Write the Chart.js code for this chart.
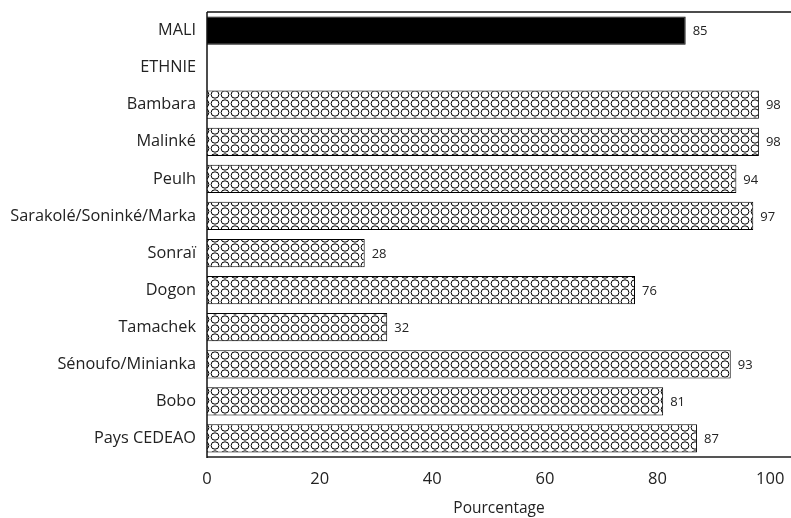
<!DOCTYPE html>
<html>
<head>
<meta charset="utf-8">
<script src="https://cdn.jsdelivr.net/npm/chart.js@4/dist/chart.umd.min.js"></script>
<style>
  html, body { margin: 0; padding: 0; background: #fff; }
  #wrap { width: 791px; height: 518px; }
</style>
</head>
<body>
<div id="wrap"><canvas id="c" width="791" height="518"></canvas></div>
<script>
const categories = ["MALI", "ETHNIE", "Bambara", "Malinké", "Peulh", "Sarakolé/Soninké/Marka", "Sonraï", "Dogon", "Tamachek", "Sénoufo/Minianka", "Bobo", "Pays CEDEAO"];
const values = [85, null, 98, 98, 94, 97, 28, 76, 32, 93, 81, 87];
const xTicks = [0, 20, 40, 60, 80, 100];
const axisTitle = "Pourcentage";

// circle pattern
function makePattern() {
  const t = document.createElement('canvas');
  t.width = 10; t.height = 9;
  const g = t.getContext('2d');
  g.fillStyle = '#fff';
  g.fillRect(0, 0, 10, 9);
  g.strokeStyle = '#000';
  g.lineWidth = 1;
  g.beginPath();
  g.ellipse(5, 4.5, 3.9, 3.7, 0, 0, Math.PI * 2);
  g.stroke();
  return document.getElementById('c').getContext('2d').createPattern(t, 'repeat');
}
const pat = makePattern();
const bg = categories.map((c, i) => i === 0 ? '#000' : pat);

const FONT = "'Open Sans', 'DejaVu Sans', sans-serif";

function zeroPad(s) {
  s.paddingTop = 0; s.paddingBottom = 0; s.paddingLeft = 0; s.paddingRight = 0;
}

const valueLabels = {
  id: 'valueLabels',
  afterDatasetsDraw(chart) {
    const ctx = chart.ctx;
    const meta = chart.getDatasetMeta(0);
    ctx.save();
    ctx.font = "13px " + FONT;
    ctx.fillStyle = '#222';
    ctx.textAlign = 'left';
    ctx.textBaseline = 'middle';
    meta.data.forEach((el, i) => {
      const v = values[i];
      if (v === null || v === undefined) return;
      ctx.fillText(String(v), el.x + 7, el.y + 1);
    });
    ctx.restore();
  }
};

const frame = {
  id: 'frame',
  afterDraw(chart) {
    const { ctx, chartArea: a } = chart;
    ctx.save();
    ctx.strokeStyle = '#111';
    ctx.lineWidth = 1.5;
    ctx.beginPath();
    ctx.moveTo(a.left, a.top);
    ctx.lineTo(chart.width, a.top);
    ctx.stroke();
    ctx.strokeStyle = '#555';
    ctx.lineWidth = 2;
    ctx.beginPath();
    ctx.moveTo(a.left, a.bottom);
    ctx.lineTo(chart.width, a.bottom);
    ctx.stroke();
    ctx.strokeStyle = '#111';
    ctx.lineWidth = 1.5;
    ctx.beginPath();
    ctx.moveTo(a.left, a.top);
    ctx.lineTo(a.left, a.bottom + 1);
    ctx.stroke();
    ctx.restore();
  }
};

new Chart(document.getElementById('c'), {
  type: 'bar',
  data: {
    labels: categories,
    datasets: [{
      data: values,
      backgroundColor: bg,
      borderColor: '#000',
      borderWidth: 1,
      barPercentage: 0.76,
      categoryPercentage: 1.0
    }]
  },
  options: {
    indexAxis: 'y',
    responsive: false,
    animation: false,
    events: [],
    layout: { padding: { top: 12, left: 0, right: 0, bottom: 0 } },
    plugins: { legend: { display: false }, tooltip: { enabled: false } },
    scales: {
      x: {
        min: 0,
        max: 103.7,
        grid: { display: false, drawTicks: false },
        border: { display: false },
        afterFit(s) { s.height = 61; zeroPad(s); },
        afterBuildTicks(s) { s.ticks = xTicks.map(v => ({ value: v })); },
        ticks: {
          padding: 12,
          color: '#222',
          font: { family: FONT, size: 16.5 }
        },
        title: {
          display: true,
          text: axisTitle,
          color: '#222',
          font: { family: FONT, size: 15.5 },
          padding: { top: 0, bottom: 0 }
        }
      },
      y: {
        grid: { display: false, drawTicks: false },
        border: { display: false },
        afterFit(s) { s.width = 207; zeroPad(s); },
        ticks: {
          padding: 11,
          color: '#222',
          autoSkip: false,
          font: { family: FONT, size: 16.3 }
        }
      }
    }
  },
  plugins: [valueLabels, frame]
});
</script>
</body>
</html>
